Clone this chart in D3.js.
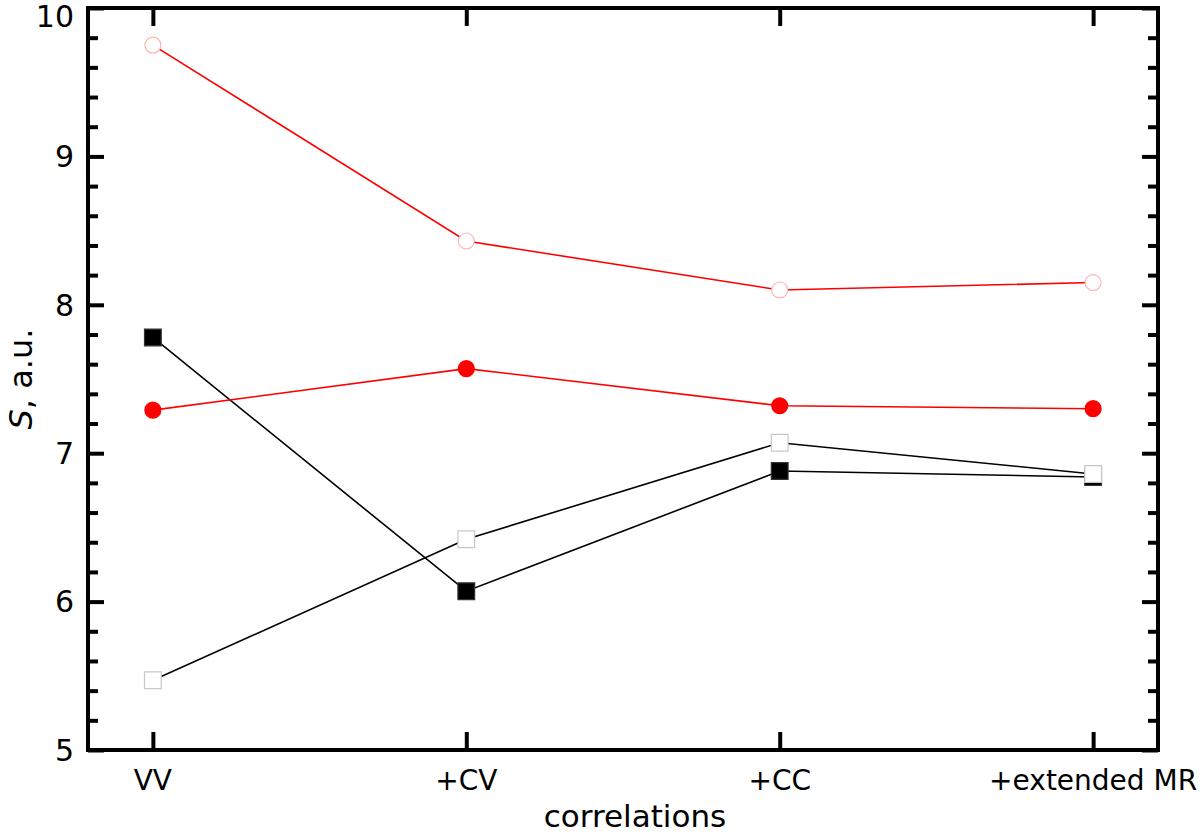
<!DOCTYPE html>
<html>
<head>
<meta charset="utf-8">
<script src="https://cdn.jsdelivr.net/npm/d3@7"></script>
<style>
  body { margin: 0; background: #fff; }
  text { font-family: "DejaVu Sans", sans-serif; fill: #000; }
</style>
</head>
<body>
<svg id="chart"></svg>
<script>
// categories along the x axis
const categories = ["VV", "+CV", "+CC", "+extended MR"];

// series values (S, a.u.)
const blackFilled = [7.78, 6.07, 6.88, 6.84];
const blackOpen = [5.47, 6.42, 7.07, 6.86];
const redFilled = [7.29, 7.57, 7.32, 7.30];
const redOpen = [9.75, 8.43, 8.10, 8.15];

const yTicks = [5, 6, 7, 8, 9, 10];

class DotLinePlot {
    constructor(_config) {
        this.config = {
            parentElement: _config.parentElement,
            containerWidth: _config.containerWidth || 1200,
            containerHeight: _config.containerHeight || 835,
        }
        this.config.margin = _config.margin || { top: 8, bottom: 85, right: 42, left: 88 }
        this.initVis();
    }

    initVis() {
        let vis = this;
        let m = vis.config.margin;
        vis.width = vis.config.containerWidth - m.left - m.right;
        vis.height = vis.config.containerHeight - m.top - m.bottom;

        let svg = d3.select(vis.config.parentElement)
            .attr("width", vis.config.containerWidth)
            .attr("height", vis.config.containerHeight);
        vis.chart = svg.append("g").attr("transform", `translate(${m.left},${m.top})`);

        vis.xScale = d3.scalePoint()
            .domain(categories)
            .range([0, vis.width])
            .padding(0.207);

        vis.yScale = d3.scaleLinear()
            .domain([5, 10])
            .range([vis.height, 0]);
    }

    render() {
        let vis = this;
        let minor = d3.range(5, 10.001, 0.2).filter(v => Math.abs(v - Math.round(v)) > 0.01);

        // left axis, ticks pointing inward
        vis.chart.append("g")
            .call(d3.axisRight(vis.yScale).tickValues(yTicks).tickSize(16).tickFormat(""))
            .call(g => g.select(".domain").remove())
            .call(g => g.selectAll("line").attr("stroke-width", 4));
        vis.chart.append("g")
            .call(d3.axisRight(vis.yScale).tickValues(minor).tickSize(10).tickFormat(""))
            .call(g => g.select(".domain").remove())
            .call(g => g.selectAll("line").attr("stroke-width", 4));

        // right axis mirrored
        vis.chart.append("g")
            .attr("transform", `translate(${vis.width},0)`)
            .call(d3.axisLeft(vis.yScale).tickValues(yTicks).tickSize(16).tickFormat(""))
            .call(g => g.select(".domain").remove())
            .call(g => g.selectAll("line").attr("stroke-width", 4));
        vis.chart.append("g")
            .attr("transform", `translate(${vis.width},0)`)
            .call(d3.axisLeft(vis.yScale).tickValues(minor).tickSize(10).tickFormat(""))
            .call(g => g.select(".domain").remove())
            .call(g => g.selectAll("line").attr("stroke-width", 4));

        // y tick labels (top one nudged down so it stays inside)
        vis.chart.append("g").selectAll("text")
            .data(yTicks)
            .join("text")
            .attr("x", -14)
            .attr("y", d => Math.max(vis.yScale(d), 8))
            .attr("dy", "0.36em")
            .attr("text-anchor", "end")
            .attr("font-size", 30)
            .text(d => d);

        // bottom and top ticks
        vis.chart.append("g")
            .attr("transform", `translate(0,${vis.height})`)
            .call(d3.axisTop(vis.xScale).tickSize(18).tickFormat(""))
            .call(g => g.select(".domain").remove())
            .call(g => g.selectAll("line").attr("stroke-width", 4));
        vis.chart.append("g")
            .call(d3.axisBottom(vis.xScale).tickSize(18).tickFormat(""))
            .call(g => g.select(".domain").remove())
            .call(g => g.selectAll("line").attr("stroke-width", 4));

        // x tick labels
        vis.chart.append("g").selectAll("text")
            .data(categories)
            .join("text")
            .attr("x", d => vis.xScale(d))
            .attr("y", vis.height + 40)
            .attr("text-anchor", "middle")
            .attr("font-size", 28)
            .text(d => d);

        // frame
        vis.chart.append("rect")
            .attr("width", vis.width)
            .attr("height", vis.height)
            .attr("fill", "none")
            .attr("stroke", "#000")
            .attr("stroke-width", 4);

        // axis titles
        vis.chart.append("text")
            .attr("x", vis.width / 2 + 12)
            .attr("y", vis.height + 77)
            .attr("text-anchor", "middle")
            .attr("font-size", 31)
            .text("correlations");

        let yl = vis.chart.append("text")
            .attr("transform", `translate(${-56},${vis.height * 0.5}) rotate(-90)`)
            .attr("x", 0)
            .attr("text-anchor", "middle")
            .attr("font-size", 32);
        yl.append("tspan").attr("font-style", "italic").text("S");
        yl.append("tspan").text(", a.u.");

        let line = d3.line()
            .x((d, i) => vis.xScale(categories[i]))
            .y(d => vis.yScale(d));

        let drawSeries = (data, color, fill, stroke, shape) => {
            vis.chart.append("path")
                .datum(data)
                .attr("fill", "none")
                .attr("stroke", color)
                .attr("stroke-width", 1.6)
                .attr("d", line);
            let sym = d3.symbol().type(shape).size(shape === d3.symbolSquare ? 280 : 200);
            vis.chart.append("g").selectAll("path")
                .data(data)
                .join("path")
                .attr("transform", (d, i) => `translate(${vis.xScale(categories[i])},${vis.yScale(d)})`)
                .attr("d", sym)
                .attr("fill", fill)
                .attr("stroke", stroke)
                .attr("stroke-width", 1.2);
        }

        drawSeries(blackFilled, "#000", "#000", "#333", d3.symbolSquare);
        drawSeries(blackOpen, "#000", "#fff", "#c8c8c8", d3.symbolSquare);
        drawSeries(redFilled, "#ff0000", "#ff0000", "#ff0000", d3.symbolCircle);
        drawSeries(redOpen, "#ff0000", "#fff", "#ffb4b4", d3.symbolCircle);
    }
}

let plot = new DotLinePlot({ parentElement: "#chart" });
plot.render();
</script>
</body>
</html>
